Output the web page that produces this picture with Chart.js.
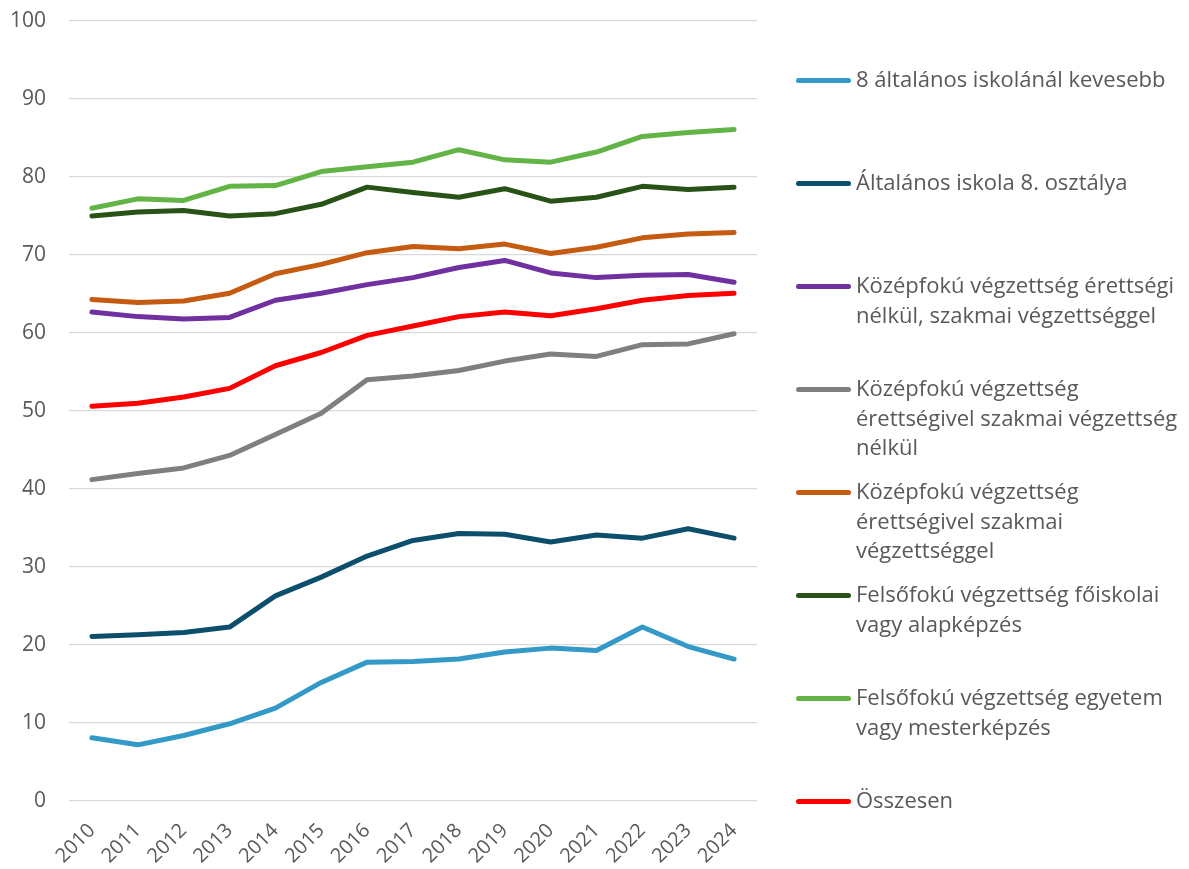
<!DOCTYPE html>
<html>
<head>
<meta charset="utf-8">
<script src="https://cdn.jsdelivr.net/npm/chart.js@4.4.0/dist/chart.umd.min.js"></script>
<style>
  html, body { margin: 0; padding: 0; background: #fff; }
  #wrap { position: relative; width: 1189px; height: 869px; }
  #legend { position: absolute; left: 796px; top: 64px; font-family: 'Open Sans', sans-serif; font-size: 22px; color: #595959; }
  .lg-item { display: flex; align-items: flex-start; height: 103px; }
  .lg-line { width: 55px; height: 5px; border-radius: 3px; margin-top: 14px; margin-right: 5px; flex: none; }
  .lg-text { line-height: 29.5px; white-space: nowrap; }
</style>
</head>
<body>
<div id="wrap">
  <canvas id="chart"></canvas>
  <div id="legend"></div>
</div>
<script>
// ── Data ─────────────────────────────────
const years = ['2010','2011','2012','2013','2014','2015','2016','2017','2018','2019','2020','2021','2022','2023','2024'];

const labels = [
  ['8 általános iskolánál kevesebb'],
  ['Általános iskola 8. osztálya'],
  ['Középfokú végzettség érettségi', 'nélkül, szakmai végzettséggel'],
  ['Középfokú végzettség', 'érettségivel szakmai végzettség', 'nélkül'],
  ['Középfokú végzettség', 'érettségivel szakmai', 'végzettséggel'],
  ['Felsőfokú végzettség főiskolai', 'vagy alapképzés'],
  ['Felsőfokú végzettség egyetem', 'vagy mesterképzés'],
  ['Összesen']
];

const below8 =      [8.1, 7.2, 8.4, 9.9, 11.9, 15.2, 17.8, 17.9, 18.2, 19.1, 19.6, 19.3, 22.3, 19.8, 18.2];
const primary8 =    [21.1, 21.3, 21.6, 22.3, 26.3, 28.7, 31.4, 33.4, 34.3, 34.2, 33.2, 34.1, 33.7, 34.9, 33.7];
const vocNoMat =    [62.7, 62.1, 61.8, 62.0, 64.2, 65.1, 66.2, 67.1, 68.4, 69.3, 67.7, 67.1, 67.4, 67.5, 66.5];
const matNoVoc =    [41.2, 42.0, 42.7, 44.3, 47.0, 49.7, 54.0, 54.5, 55.2, 56.4, 57.3, 57.0, 58.5, 58.6, 59.9];
const matVoc =      [64.3, 63.9, 64.1, 65.1, 67.6, 68.8, 70.3, 71.1, 70.8, 71.4, 70.2, 71.0, 72.2, 72.7, 72.9];
const college =     [75.0, 75.5, 75.7, 75.0, 75.3, 76.5, 78.7, 78.0, 77.4, 78.5, 76.9, 77.4, 78.8, 78.4, 78.7];
const university =  [76.0, 77.2, 77.0, 78.8, 78.9, 80.7, 81.3, 81.9, 83.5, 82.2, 81.9, 83.2, 85.2, 85.7, 86.1];
const total =       [50.6, 51.0, 51.8, 52.9, 55.8, 57.5, 59.7, 60.9, 62.1, 62.7, 62.2, 63.1, 64.2, 64.8, 65.1];

const yTicks = [0, 10, 20, 30, 40, 50, 60, 70, 80, 90, 100];

const seriesValues = [below8, primary8, vocNoMat, matNoVoc, matVoc, college, university, total];
const colors = ['#3399C6', '#0B4F6C', '#7030A0', '#7F7F7F', '#C55A11', '#275317', '#62B446', '#FF0000'];

// ── Legend (HTML) ─────────────────────────
const legendEl = document.getElementById('legend');
legendEl.innerHTML = labels.map((lines, i) => `<div class="lg-item">
    <div class="lg-line" style="background:${colors[i]}"></div>
    <div class="lg-text">${lines.join('<br>')}</div>
  </div>`).join('');

// ── Chart ─────────────────────────────────
const datasets = seriesValues.map((vals, i) => ({
  label: labels[i].join(' '),
  data: vals,
  borderColor: colors[i],
  backgroundColor: colors[i],
  borderWidth: 5,
  pointRadius: 0,
  tension: 0,
  borderCapStyle: 'round',
  borderJoinStyle: 'round'
}));

new Chart(document.getElementById('chart'), {
  type: 'line',
  data: { labels: years, datasets: datasets },
  options: {
    responsive: true, maintainAspectRatio: false, animation: false,
    layout: { padding: { top: 21, right: 432, left: 0, bottom: 0 } },
    plugins: { legend: { display: false }, tooltip: { enabled: false } },
    scales: {
      x: {
        offset: true,
        grid: { display: false, drawTicks: false },
        border: { display: false },
        ticks: { color: '#595959', font: { family: "'Open Sans', sans-serif", size: 20 }, minRotation: 45, maxRotation: 45, padding: 18 },
        afterFit: s => { s.height = 68; s.paddingLeft = 0; s.paddingRight = 0; }
      },
      y: {
        min: 0, max: 100,
        afterBuildTicks: s => { s.ticks = yTicks.map(v => ({ value: v })); },
        grid: { color: '#D9D9D9', lineWidth: 1.3, drawTicks: false },
        border: { display: false },
        ticks: { color: '#595959', font: { family: "'Open Sans', sans-serif", size: 21 }, padding: 23 },
        afterFit: s => { s.width = 69; s.paddingTop = 0; s.paddingBottom = 0; }
      }
    }
  }
});
</script>
</body>
</html>
